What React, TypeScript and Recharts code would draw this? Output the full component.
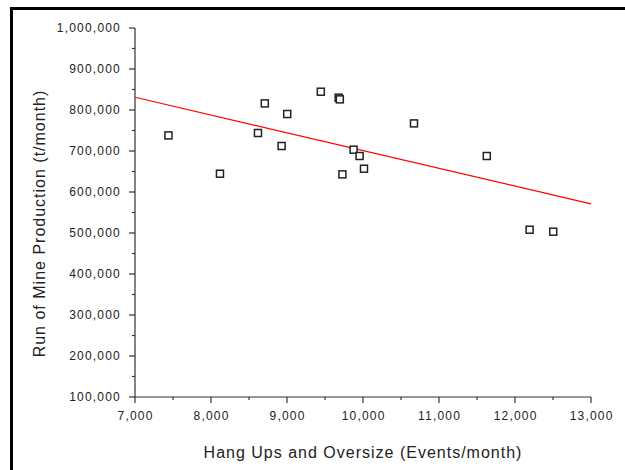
import { Scatter, ScatterChart, XAxis, YAxis } from 'recharts';

// values
const hangUps = [7440, 8118, 8618, 8708, 8929, 9003, 9445, 9680, 9695, 9729, 9876, 9955, 10013, 10671, 11629, 12192, 12503];
const production = [738000, 644600, 743900, 816100, 712200, 790200, 844600, 830000, 826000, 643000, 703200, 687800, 656800, 767300, 687800, 508000, 503200];
const fitHangUps = [7000, 13000];
const fitProduction = [831000, 571000];
const xTicks = [7000, 7500, 8000, 8500, 9000, 9500, 10000, 10500, 11000, 11500, 12000, 12500, 13000];
const yTicks = [100000, 150000, 200000, 250000, 300000, 350000, 400000, 450000, 500000, 550000, 600000, 650000, 700000, 750000, 800000, 850000, 900000, 950000, 1000000];

const points = hangUps.map((x, i) => ({ x, y: production[i] }));
const fitLine = fitHangUps.map((x, i) => ({ x, y: fitProduction[i] }));

const font = "Arial, 'Liberation Sans', sans-serif";
const axisColor = '#333';
const textColor = '#222';

const XTick = ({ x, y, payload }: any) => {
  const major = payload.value % 1000 === 0;
  return (
    <g>
      <line x1={x} x2={x} y1={y} y2={y + (major ? 6 : 3)} stroke={axisColor} strokeWidth={1.2} />
      {major && (
        <text x={x + 0.6} y={y + 23} textAnchor="middle" fontSize={12} letterSpacing={1.2} fill={textColor} fontFamily={font}>
          {payload.value.toLocaleString('en-US')}
        </text>
      )}
    </g>
  );
};

const YTick = ({ x, y, payload }: any) => {
  const major = payload.value % 100000 === 0;
  return (
    <g>
      <line x1={x - (major ? 6 : 3)} x2={x} y1={y} y2={y} stroke={axisColor} strokeWidth={1.2} />
      {major && (
        <text x={x - 14} y={y + 4.3} textAnchor="end" fontSize={12} letterSpacing={1.2} fill={textColor} fontFamily={font}>
          {payload.value.toLocaleString('en-US')}
        </text>
      )}
    </g>
  );
};

const YTitle = ({ viewBox }: any) => {
  const cx = viewBox.x + 39;
  const cy = viewBox.y + viewBox.height / 2 + 11;
  return (
    <text x={cx} y={cy} transform={`rotate(-90, ${cx}, ${cy})`} textAnchor="middle" dominantBaseline="central"
      fontSize={16} letterSpacing={1} fill={textColor} fontFamily={font}>
      Run of Mine Production (t/month)
    </text>
  );
};

const XTitle = ({ viewBox }: any) => {
  const cx = viewBox.x + viewBox.width / 2;
  const cy = viewBox.y + 55;
  return (
    <text x={cx} y={cy} textAnchor="middle" dominantBaseline="central"
      fontSize={16} letterSpacing={1} fill={textColor} fontFamily={font}>
      Hang Ups and Oversize (Events/month)
    </text>
  );
};

const Square = ({ cx, cy }: any) => (
  <rect x={cx - 3.5} y={cy - 3.5} width={7} height={7} fill="#fff" stroke="#222" strokeWidth={1.5} />
);

export default function App() {
  return (
    <div style={{ position: 'absolute', left: 0, top: 0, width: 625, height: 470, background: '#fff', overflow: 'hidden' }}>
      <div style={{ position: 'absolute', left: 10, top: 7, width: 700, height: 600, borderTop: '3px solid #000', borderLeft: '3px solid #000' }} />
      <div style={{ position: 'absolute', left: 0, top: 0 }}>
        <ScatterChart width={625} height={470} margin={{ top: 28, right: 34, bottom: 0, left: 0 }}>
          <XAxis type="number" dataKey="x" domain={[7000, 13000]} ticks={xTicks} interval={0}
            tickSize={0} tickMargin={0} tickLine={false} tick={<XTick />}
            axisLine={{ stroke: axisColor, strokeWidth: 1.2 }} height={73} label={<XTitle />} />
          <YAxis type="number" dataKey="y" domain={[100000, 1000000]} ticks={yTicks} interval={0}
            tickSize={0} tickMargin={0} tickLine={false} tick={<YTick />}
            axisLine={{ stroke: axisColor, strokeWidth: 1.2 }} width={135} label={<YTitle />} />
          <Scatter data={fitLine} line={{ stroke: '#ff0000', strokeWidth: 1.2 }} shape={() => <g />} isAnimationActive={false} />
          <Scatter data={points} shape={<Square />} isAnimationActive={false} />
        </ScatterChart>
      </div>
    </div>
  );
}
